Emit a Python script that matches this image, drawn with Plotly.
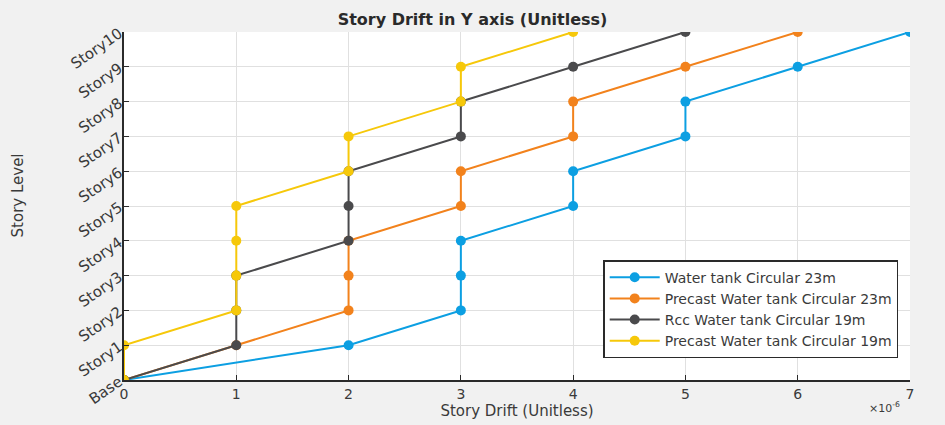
import plotly.graph_objects as go

# Story levels (bottom to top)
stories = ["Base", "Story1", "Story2", "Story3", "Story4", "Story5",
           "Story6", "Story7", "Story8", "Story9", "Story10"]

# Story drift values, in units of 1e-6
water_23 = [0, 2, 3, 3, 3, 4, 4, 5, 5, 6, 7]
precast_23 = [0, 1, 2, 2, 2, 3, 3, 4, 4, 5, 6]
rcc_19 = [0, 1, 1, 1, 2, 2, 2, 3, 3, 4, 5]
precast_19 = [0, 0, 1, 1, 1, 1, 2, 2, 3, 3, 4]

series_names = ["Water tank Circular 23m", "Precast Water tank Circular 23m",
                "Rcc Water tank Circular 19m", "Precast Water tank Circular 19m"]
series_values = [water_23, precast_23, rcc_19, precast_19]
colors = ["#0c9fe2", "#f2821c", "#4a4a4c", "#f6c80a"]

x_ticks = [0, 1, 2, 3, 4, 5, 6, 7]

fig = go.Figure()
for name, vals, col in zip(series_names, series_values, colors):
    fig.add_trace(go.Scatter(
        x=vals, y=list(range(len(stories))), mode="lines+markers", name=name,
        line=dict(color=col, width=2),
        marker=dict(color=col, size=10),
    ))

font_family = "DejaVu Sans, Verdana, sans-serif"
ink = "#3a3a3a"

fig.update_layout(
    width=945, height=425,
    margin=dict(l=124, r=35, t=32, b=45),
    paper_bgcolor="#f1f1f1",
    plot_bgcolor="#ffffff",
    font=dict(family=font_family, size=14, color=ink),
    title=dict(text="<b>Story Drift in Y axis (Unitless)</b>", x=0.5, xanchor="center",
               y=0.955, yanchor="middle", font=dict(size=16, color="#2a2a2a")),
    showlegend=True,
    legend=dict(x=0.985, xanchor="right", y=0.063, yanchor="bottom",
                bgcolor="#ffffff", bordercolor="#2a2a2a", borderwidth=1.5,
                font=dict(size=14, color=ink), tracegroupgap=0,
                itemwidth=50),
)

fig.update_xaxes(
    range=[0, 7], tickvals=x_ticks, ticktext=[str(t) for t in x_ticks],
    showgrid=True, gridcolor="#e0e0e0", gridwidth=1,
    showline=True, linecolor="#2a2a2a", linewidth=1.5,
    ticks="inside", ticklen=5, tickcolor="#2a2a2a",
    zeroline=False, mirror=False,
    tickfont=dict(size=14),
    title=dict(text="Story Drift (Unitless)", standoff=2, font=dict(size=15)),
)
fig.update_yaxes(
    range=[0, 10], tickvals=list(range(len(stories))), ticktext=stories,
    tickangle=-35,
    showgrid=True, gridcolor="#e0e0e0", gridwidth=1,
    showline=True, linecolor="#2a2a2a", linewidth=1.5,
    ticks="inside", ticklen=5, tickcolor="#2a2a2a",
    zeroline=False,
    tickfont=dict(size=15),
)

# y axis title placed at the far left edge
fig.add_annotation(text="Story Level", xref="paper", yref="paper",
                   x=-0.135, y=0.53, xanchor="center", yanchor="middle",
                   textangle=-90, showarrow=False, font=dict(size=15, color=ink))

# exponent marker for the x axis
fig.add_annotation(text="\u00d710<sup>-6</sup>", xref="paper", yref="paper",
                   x=0.99, y=-0.08, xanchor="right", yanchor="middle",
                   showarrow=False, font=dict(size=11, color=ink))

fig.write_html("out.html")
